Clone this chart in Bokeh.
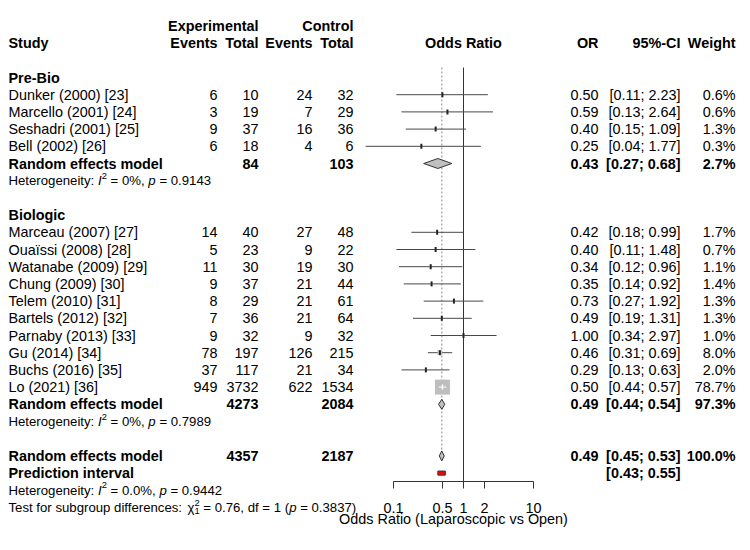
import math

from bokeh.plotting import figure
from bokeh.models import Range1d, LogScale, LogAxis, FixedTicker, CustomJSTickFormatter
from bokeh.core.properties import value
from bokeh.embed import file_html
from bokeh.resources import INLINE

# ---------------------------------------------------------------- data
prebio_study = ["Dunker (2000) [23]", "Marcello (2001) [24]",
                "Seshadri (2001) [25]", "Bell (2002) [26]"]
prebio_exp_events = [6, 3, 9, 6]
prebio_exp_total = [10, 19, 37, 18]
prebio_ctrl_events = [24, 7, 16, 4]
prebio_ctrl_total = [32, 29, 36, 6]
prebio_or = [0.50, 0.59, 0.40, 0.25]
prebio_ci_low = [0.11, 0.13, 0.15, 0.04]
prebio_ci_high = [2.23, 2.64, 1.09, 1.77]
prebio_weight = [0.6, 0.6, 1.3, 0.3]

bio_study = ["Marceau (2007) [27]", "Ouaïssi (2008) [28]", "Watanabe (2009) [29]",
             "Chung (2009) [30]", "Telem (2010) [31]", "Bartels (2012) [32]",
             "Parnaby (2013) [33]", "Gu (2014) [34]", "Buchs (2016) [35]",
             "Lo (2021) [36]"]
bio_exp_events = [14, 5, 11, 9, 8, 7, 9, 78, 37, 949]
bio_exp_total = [40, 23, 30, 37, 29, 36, 32, 197, 117, 3732]
bio_ctrl_events = [27, 9, 19, 21, 21, 21, 9, 126, 21, 622]
bio_ctrl_total = [48, 22, 30, 44, 61, 64, 32, 215, 34, 1534]
bio_or = [0.42, 0.40, 0.34, 0.35, 0.73, 0.49, 1.00, 0.46, 0.29, 0.50]
bio_ci_low = [0.18, 0.11, 0.12, 0.14, 0.27, 0.19, 0.34, 0.31, 0.13, 0.44]
bio_ci_high = [0.99, 1.48, 0.96, 0.92, 1.92, 1.31, 2.97, 0.69, 0.63, 0.57]
bio_weight = [1.7, 0.7, 1.1, 1.4, 1.3, 1.3, 1.0, 8.0, 2.0, 78.7]

subgroup_name = ["Pre-Bio", "Biologic"]
subgroup_exp_total = [84, 4273]
subgroup_ctrl_total = [103, 2084]
subgroup_or = [0.43, 0.49]
subgroup_ci_low = [0.27, 0.44]
subgroup_ci_high = [0.68, 0.54]
subgroup_weight = [2.7, 97.3]
subgroup_i2 = ["0%", "0%"]
subgroup_het_p = ["0.9143", "0.7989"]

overall_exp_total = 4357
overall_ctrl_total = 2187
overall_or = 0.49
overall_ci = [0.45, 0.53]
overall_weight = 100.0
prediction_ci = [0.43, 0.55]
overall_i2 = "0.0%"
overall_het_p = "0.9442"
test_chi2 = "0.76"
test_df = 1
test_p = "0.3837"

axis_ticks = [0.1, 0.5, 1, 2, 10]
axis_title = "Odds Ratio (Laparoscopic vs Open)"

# ---------------------------------------------------------------- layout
W, H = 750, 550
ROW0_PX, ROW_PX = 25.4, 17.2          # first text row and row pitch (px)
OR1_PX, PX_PER_DECADE = 463, 70       # where OR = 1 sits, log scale width
FONT = "Liberation Sans"
FS_PX = 14.4
FS_HET_PX = 13.2                      # heterogeneity / test lines
FS_SCRIPT_PX = 9.4
SUP_SHIFT, SUB_SHIFT = 0.28, 0.23     # in rows
COL_STUDY, COL_EE, COL_ET, COL_CE, COL_CT = 8, 217, 258, 312, 353
COL_OR, COL_CI, COL_W = 598, 680, 735
TITLE_X = 453
SQUARE_MAX_PX = 15
DIAMOND_H = 0.29
PI_H = 0.12
LINE_COL = "#484848"

p = figure(width=W, height=H, output_backend="svg", toolbar_location=None,
           x_range=Range1d(0, W),
           y_range=Range1d((H - ROW0_PX) / ROW_PX, -ROW0_PX / ROW_PX),
           x_axis_location=None, y_axis_location=None,
           min_border=0, outline_line_color=None, background_fill_color="white")
p.grid.visible = False
p.extra_x_ranges = {"or": Range1d(10 ** (-OR1_PX / PX_PER_DECADE),
                                  10 ** ((W - OR1_PX) / PX_PER_DECADE))}
p.extra_x_scales = {"or": LogScale()}

# ---------------------------------------------------------------- text helpers
ARIAL = {' ': 278, '%': 889, '(': 333, ')': 333, ',': 278, '.': 278, ':': 278,
         ';': 278, '=': 584, '-': 333, 'H': 722, 'I': 278, 'T': 611, 'a': 556,
         'b': 556, 'c': 500, 'd': 556, 'e': 556, 'f': 278, 'g': 556, 'h': 556,
         'i': 222, 'n': 556, 'o': 556, 'p': 556, 'r': 333, 's': 500, 't': 278,
         'u': 556, 'y': 500, 'χ': 520}
for _d in "0123456789":
    ARIAL[_d] = 556


def adv(s, px):
    return sum(ARIAL.get(c, 556) for c in s) * px / 1000.0


texts = {}


def put(x, y, t, align="left", style="normal", size=FS_PX):
    g = texts.setdefault((align, style, size), dict(x=[], y=[], text=[]))
    g["x"].append(x)
    g["y"].append(y)
    g["text"].append(t)


def rich_line(row, parts, base=FS_HET_PX):
    x = COL_STUDY
    for s, kind in parts:
        if kind == "stack":
            top, bottom = s.split("|")
            put(x, row - SUP_SHIFT, top, size=FS_SCRIPT_PX)
            put(x, row + SUB_SHIFT, bottom, size=FS_SCRIPT_PX)
            x += max(adv(top, FS_SCRIPT_PX), adv(bottom, FS_SCRIPT_PX))
            continue
        size = FS_SCRIPT_PX if kind == "sup" else base
        core = s.strip()
        x += adv(s[:len(s) - len(s.lstrip())], size)
        dy = -SUP_SHIFT if kind == "sup" else 0
        put(x, row + dy, core, style="italic" if kind == "i" else "normal", size=size)
        x += adv(core, size) + adv(s[len(s.rstrip()):], size)


def ci_text(lo, hi):
    return "[%.2f; %.2f]" % (lo, hi)


# ---------------------------------------------------------------- header
HEADER1, HEADER2 = 0, 1
put(COL_ET, HEADER1, "Experimental", "right", "bold")
put(COL_CT, HEADER1, "Control", "right", "bold")
put(COL_STUDY, HEADER2, "Study", "left", "bold")
for col, lab in [(COL_EE, "Events"), (COL_ET, "Total"), (COL_CE, "Events"),
                 (COL_CT, "Total"), (COL_OR, "OR"), (COL_CI, "95%-CI"),
                 (COL_W, "Weight")]:
    put(col, HEADER2, lab, "right", "bold")

# ---------------------------------------------------------------- rows
groups = [
    (prebio_study, prebio_exp_events, prebio_exp_total, prebio_ctrl_events,
     prebio_ctrl_total, prebio_or, prebio_ci_low, prebio_ci_high, prebio_weight),
    (bio_study, bio_exp_events, bio_exp_total, bio_ctrl_events,
     bio_ctrl_total, bio_or, bio_ci_low, bio_ci_high, bio_weight),
]
max_w = max(prebio_weight + bio_weight)

st_row, st_or, st_lo, st_hi, st_size = [], [], [], [], []
dia_xs, dia_ys = [], []

row = 3
for gi, (names, ee, et, ce, ct, est, lo, hi, wt) in enumerate(groups):
    put(COL_STUDY, row, subgroup_name[gi], "left", "bold")
    row += 1
    for k in range(len(names)):
        put(COL_STUDY, row, names[k])
        put(COL_EE, row, str(ee[k]), "right")
        put(COL_ET, row, str(et[k]), "right")
        put(COL_CE, row, str(ce[k]), "right")
        put(COL_CT, row, str(ct[k]), "right")
        put(COL_OR, row, "%.2f" % est[k], "right")
        put(COL_CI, row, ci_text(lo[k], hi[k]), "right")
        put(COL_W, row, "%.1f%%" % wt[k], "right")
        st_row.append(row)
        st_or.append(est[k])
        st_lo.append(lo[k])
        st_hi.append(hi[k])
        st_size.append(SQUARE_MAX_PX * math.sqrt(wt[k] / max_w))
        row += 1
    put(COL_STUDY, row, "Random effects model", "left", "bold")
    put(COL_ET, row, str(subgroup_exp_total[gi]), "right", "bold")
    put(COL_CT, row, str(subgroup_ctrl_total[gi]), "right", "bold")
    put(COL_OR, row, "%.2f" % subgroup_or[gi], "right", "bold")
    put(COL_CI, row, ci_text(subgroup_ci_low[gi], subgroup_ci_high[gi]), "right", "bold")
    put(COL_W, row, "%.1f%%" % subgroup_weight[gi], "right", "bold")
    dia_xs.append([subgroup_ci_low[gi], subgroup_or[gi], subgroup_ci_high[gi], subgroup_or[gi]])
    dia_ys.append([row, row - DIAMOND_H, row, row + DIAMOND_H])
    row += 1
    rich_line(row, [("Heterogeneity: ", "n"), ("I", "i"), ("2", "sup"),
                    (" = %s, " % subgroup_i2[gi], "n"), ("p", "i"),
                    (" = %s" % subgroup_het_p[gi], "n")])
    row += 2

overall_row = row
put(COL_STUDY, overall_row, "Random effects model", "left", "bold")
put(COL_ET, overall_row, str(overall_exp_total), "right", "bold")
put(COL_CT, overall_row, str(overall_ctrl_total), "right", "bold")
put(COL_OR, overall_row, "%.2f" % overall_or, "right", "bold")
put(COL_CI, overall_row, ci_text(*overall_ci), "right", "bold")
put(COL_W, overall_row, "%.1f%%" % overall_weight, "right", "bold")
dia_xs.append([overall_ci[0], overall_or, overall_ci[1], overall_or])
dia_ys.append([overall_row, overall_row - DIAMOND_H, overall_row, overall_row + DIAMOND_H])

pi_row = overall_row + 1
put(COL_STUDY, pi_row, "Prediction interval", "left", "bold")
put(COL_CI, pi_row, ci_text(*prediction_ci), "right", "bold")

het_row = pi_row + 1
rich_line(het_row, [("Heterogeneity: ", "n"), ("I", "i"), ("2", "sup"),
                    (" = %s, " % overall_i2, "n"), ("p", "i"),
                    (" = %s" % overall_het_p, "n")])
test_row = het_row + 1
rich_line(test_row, [("Test for subgroup differences: ", "n"), ("χ", "n"),
                     ("2|1", "stack"), (" = %s, df = %d (" % (test_chi2, test_df), "n"),
                     ("p", "i"), (" = %s)" % test_p, "n")])

axis_row = pi_row + 0.47
top_row = HEADER2 + 1.42

# ---------------------------------------------------------------- forest marks
# reference lines: no effect (OR = 1) and the pooled estimate
p.segment(x0=[1], y0=[top_row], x1=[1], y1=[axis_row], x_range_name="or",
          line_color="#333333", line_width=1)
p.segment(x0=[overall_or], y0=[top_row], x1=[overall_or], y1=[overall_row - DIAMOND_H],
          x_range_name="or", line_color="#8a8a8a", line_width=1, line_dash="2 2")

# study confidence intervals; the part hidden inside a big square is drawn white
inside = [s > PX_PER_DECADE * math.log10(h / l) for s, l, h in zip(st_size, st_lo, st_hi)]
out_idx = [i for i, f in enumerate(inside) if not f]
in_idx = [i for i, f in enumerate(inside) if f]
p.segment(x0=[st_lo[i] for i in out_idx], y0=[st_row[i] for i in out_idx],
          x1=[st_hi[i] for i in out_idx], y1=[st_row[i] for i in out_idx],
          x_range_name="or", line_color=LINE_COL, line_width=1)
p.scatter(x=st_or, y=st_row, size=st_size, marker="square", x_range_name="or",
          fill_color="#bebebe", line_color=None)
p.segment(x0=[st_lo[i] for i in in_idx], y0=[st_row[i] for i in in_idx],
          x1=[st_hi[i] for i in in_idx], y1=[st_row[i] for i in in_idx],
          x_range_name="or", line_color="white", line_width=1)
p.scatter(x=[st_or[i] for i in out_idx], y=[st_row[i] for i in out_idx], size=5,
          marker="dash", angle=math.pi / 2, x_range_name="or",
          line_color="#222222", line_width=2)
p.scatter(x=[st_or[i] for i in in_idx], y=[st_row[i] for i in in_idx], size=5,
          marker="dash", angle=math.pi / 2, x_range_name="or",
          line_color="white", line_width=1.5)

# pooled diamonds and prediction interval
p.patches(xs=dia_xs, ys=dia_ys, x_range_name="or",
          fill_color="#c0c0c0", line_color="#333333", line_width=1)
p.quad(left=[prediction_ci[0]], right=[prediction_ci[1]],
       top=[pi_row - PI_H], bottom=[pi_row + PI_H], x_range_name="or",
       fill_color="#ff0000", line_color="#333333", line_width=1)

# odds-ratio axis
ax = LogAxis(x_range_name="or", ticker=FixedTicker(ticks=axis_ticks),
             bounds=(axis_ticks[0], axis_ticks[-1]), fixed_location=axis_row,
             formatter=CustomJSTickFormatter(code="return String(tick)"))
ax.major_tick_out = 7
ax.major_tick_in = 0
ax.minor_tick_out = 0
ax.minor_tick_in = 0
ax.axis_line_color = "#333333"
ax.major_tick_line_color = "#333333"
ax.major_label_text_font = FONT
ax.major_label_text_font_size = "%gpx" % FS_PX
ax.major_label_text_color = "black"
ax.major_label_standoff = 15
p.add_layout(ax, "below")

# ---------------------------------------------------------------- text
p.text(x=[1], y=[HEADER2], text=["Odds Ratio"], x_range_name="or",
       text_align="center", text_baseline="middle", text_font=value(FONT),
       text_font_style="bold", text_font_size="%gpx" % FS_PX, text_color="black")
put(TITLE_X, test_row + 0.64, axis_title, "center")

for (align, style, size), g in texts.items():
    p.text(x=g["x"], y=g["y"], text=g["text"], text_align=align,
           text_baseline="middle", text_font=value(FONT), text_font_style=style,
           text_font_size="%gpx" % size, text_color="black")

open("out.html", "w").write(file_html(p, INLINE))
